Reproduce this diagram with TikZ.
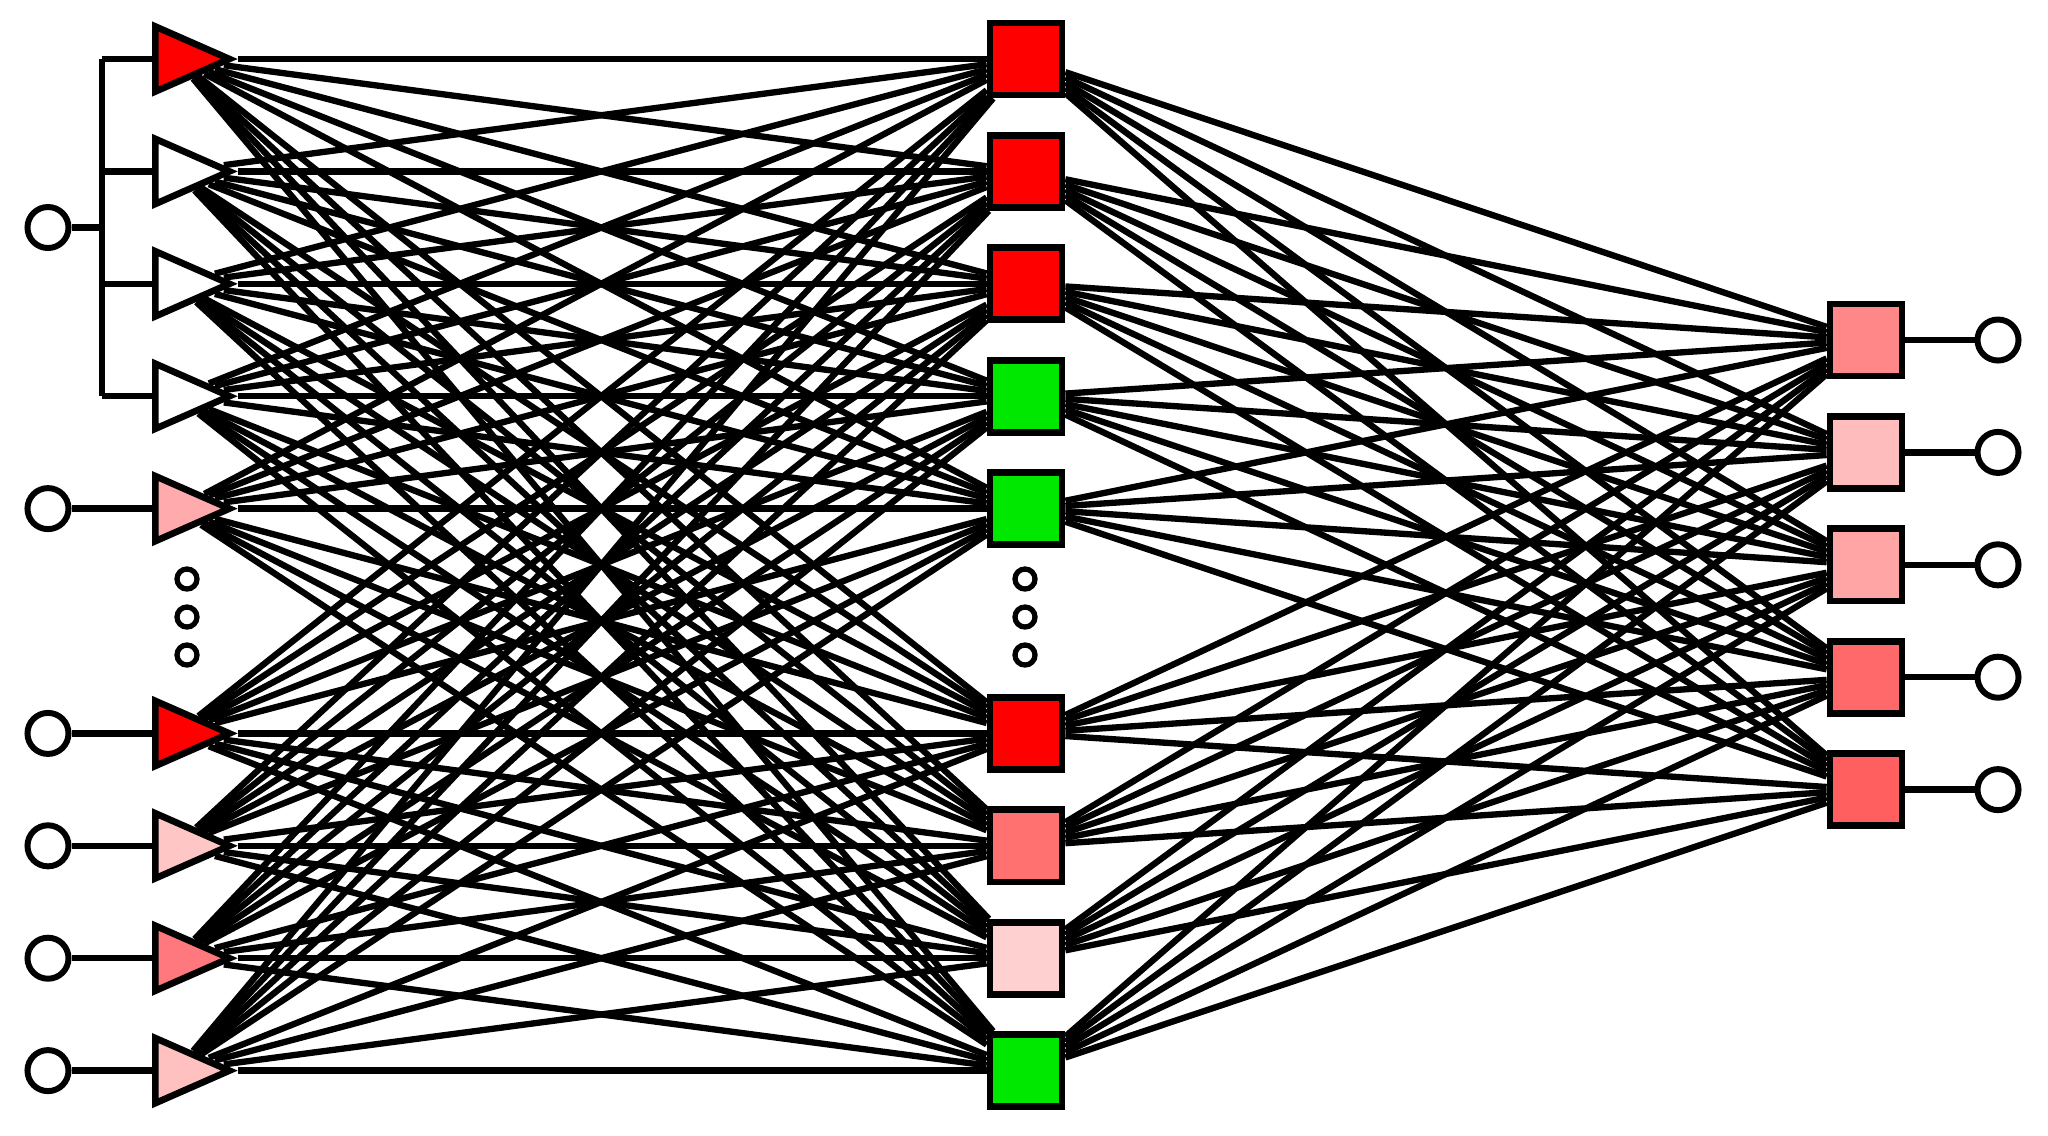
\documentclass[tikz,border=0pt]{standalone}
\usetikzlibrary{shapes.geometric}
\pgfdeclarelayer{bg}
\pgfsetlayers{bg,main}
\definecolor{cRed}{RGB}{255,0,0}
\definecolor{cGreen}{RGB}{0,232,0}
\definecolor{cTa}{RGB}{255,170,172}
\definecolor{cTb}{RGB}{255,198,198}
\definecolor{cTc}{RGB}{255,120,125}
\definecolor{cTd}{RGB}{255,192,192}
\definecolor{cSa}{RGB}{255,112,112}
\definecolor{cSb}{RGB}{255,208,208}
\definecolor{cRa}{RGB}{255,135,135}
\definecolor{cRb}{RGB}{255,188,188}
\definecolor{cRc}{RGB}{255,165,165}
\definecolor{cRd}{RGB}{255,105,105}
\definecolor{cRe}{RGB}{255,95,95}
\begin{document}
\begin{tikzpicture}[x=0.01cm,y=-0.01cm,
  tri/.style={isosceles triangle, isosceles triangle stretches, shape border rotate=0,
    minimum width=0.65cm, minimum height=0.74cm, inner sep=0pt, draw, line width=1.9pt},
  sq/.style={rectangle, draw, line width=1.9pt, minimum size=0.72cm, inner sep=0pt},
  io/.style={circle, draw, line width=1.7pt, minimum size=0.41cm, inner sep=0pt, fill=white},
  smalldot/.style={circle, draw, line width=1.5pt, minimum size=0.2cm, inner sep=0pt},
  link/.style={line width=1.8pt}]
\useasboundingbox (0,0) rectangle (2048,1135);
% input layer triangles
\foreach \i/\c in {0/cRed,1/white,2/white,3/white,4/cTa,6/cRed,7/cTb,8/cTc,9/cTd}
  \node[tri, fill=\c, anchor=lower side] (L\i) at (152,{59+112.4*\i}) {};
% hidden squares
\foreach \i/\c in {0/cRed,1/cRed,2/cRed,3/cGreen,4/cGreen,6/cRed,7/cSa,8/cSb,9/cGreen}
  \node[sq, fill=\c] (M\i) at (1026,{59+112.4*\i}) {};
% output squares and circles
\foreach \k/\c in {0/cRa,1/cRb,2/cRc,3/cRd,4/cRe}{
  \node[sq, fill=\c] (R\k) at (1866,{340+112.4*\k}) {};
  \node[io] (O\k) at (1998,{340+112.4*\k}) {};
  \draw[link] (R\k.east) -- (O\k.west);
}
% shared input with bus
\node[io] (I0) at (48,227.5) {};
\coordinate (Bm) at (102,227.5);
\foreach \i in {0,1,2,3} \coordinate (B\i) at (102,{59+112.4*\i});
\draw[link] (B0) -- (B3);
\draw[link] (I0.east) -- (Bm);
\foreach \i in {0,1,2,3} \draw[link] (B\i) -- (L\i.lower side);
% other inputs
\foreach \i in {4,6,7,8,9}{
  \node[io] (I\i) at (48,{59+112.4*\i}) {};
  \draw[link] (I\i.east) -- (L\i.lower side);
}
% ellipsis dots
\foreach \j/\y in {a/579,b/617,c/655}{
  \node[smalldot] (DL\j) at (187,\y) {};
  \node[smalldot] (DM\j) at (1025,\y) {};
}
\begin{pgfonlayer}{bg}
\fill[white] (0,0) rectangle (2048,1135);
\foreach \i in {0,1,2,3,4,6,7,8,9}
  \foreach \j in {0,1,2,3,4,6,7,8,9}
    \draw[link] (L\i) -- (M\j);
\foreach \j in {0,1,2,3,4,6,7,8,9}
  \foreach \k in {0,1,2,3,4}
    \draw[link] (M\j) -- (R\k);
\end{pgfonlayer}
\end{tikzpicture}
\end{document}
